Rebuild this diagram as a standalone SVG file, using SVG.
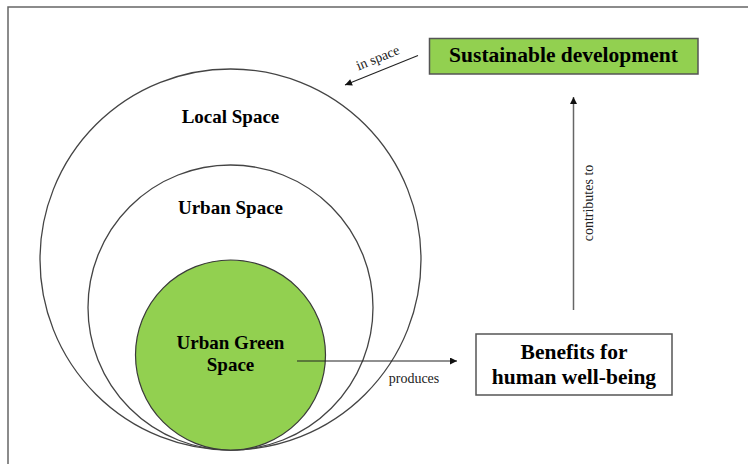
<svg xmlns="http://www.w3.org/2000/svg" width="748" height="464" viewBox="0 0 748 464">
<defs>
<style>
.lbl{font-family:"Liberation Serif","Times New Roman",serif;font-weight:bold;fill:#000;text-anchor:middle}
.edge{font-family:"Liberation Serif","Times New Roman",serif;fill:#222;font-size:14px;text-anchor:middle}
.ring{fill:none;stroke:#444;stroke-width:1.3}
.conn{fill:none;stroke:#222;stroke-width:1.1}
</style>
<marker id="ah" viewBox="0 0 10 10" refX="10" refY="5" markerWidth="8" markerHeight="7" markerUnits="userSpaceOnUse" orient="auto">
<path d="M0,0 L10,5 L0,10 z" fill="#111"/>
</marker>
</defs>
<rect width="748" height="464" fill="#fff"/>
<path d="M8,464 V7 H748" fill="none" stroke="#666" stroke-width="1.5"/>
<g id="local-space">
<circle class="ring" cx="230.5" cy="259.5" r="190.5"/>
<text class="lbl" x="230.5" y="123" font-size="19">Local Space</text>
</g>
<g id="urban-space">
<circle class="ring" cx="230.5" cy="307.5" r="142.5"/>
<text class="lbl" x="230.5" y="214" font-size="19">Urban Space</text>
</g>
<g id="urban-green-space">
<circle cx="230.5" cy="355" r="95" fill="#92D050" stroke="#3a3a3a" stroke-width="1.2"/>
<text class="lbl" x="230.5" y="349" font-size="19">Urban Green</text>
<text class="lbl" x="230.5" y="371" font-size="19">Space</text>
</g>
<g id="benefits">
<rect x="476" y="334" width="196" height="61" fill="#fff" stroke="#555" stroke-width="1.5"/>
<text class="lbl" x="574" y="359" font-size="21.5">Benefits for</text>
<text class="lbl" x="574" y="384" font-size="21.5">human well-being</text>
</g>
<g id="sustainable-development">
<rect x="429.5" y="38.5" width="268.5" height="35.5" fill="#92D050" stroke="#555" stroke-width="1.5"/>
<text class="lbl" x="563.5" y="62" font-size="21.5">Sustainable development</text>
</g>
<g id="connectors">
<line class="conn" x1="297" y1="361" x2="457" y2="361" marker-end="url(#ah)"/>
<text class="edge" x="414" y="383">produces</text>
<line x1="573.5" y1="310" x2="573.5" y2="97" stroke="#666" stroke-width="1.5" marker-end="url(#ah)"/>
<text class="edge" transform="translate(593,203) rotate(-90)">contributes to</text>
<line class="conn" x1="418" y1="55.5" x2="345" y2="85" marker-end="url(#ah)"/>
<text class="edge" transform="translate(379.5,62) rotate(-22)">in space</text>
</g>
</svg>
